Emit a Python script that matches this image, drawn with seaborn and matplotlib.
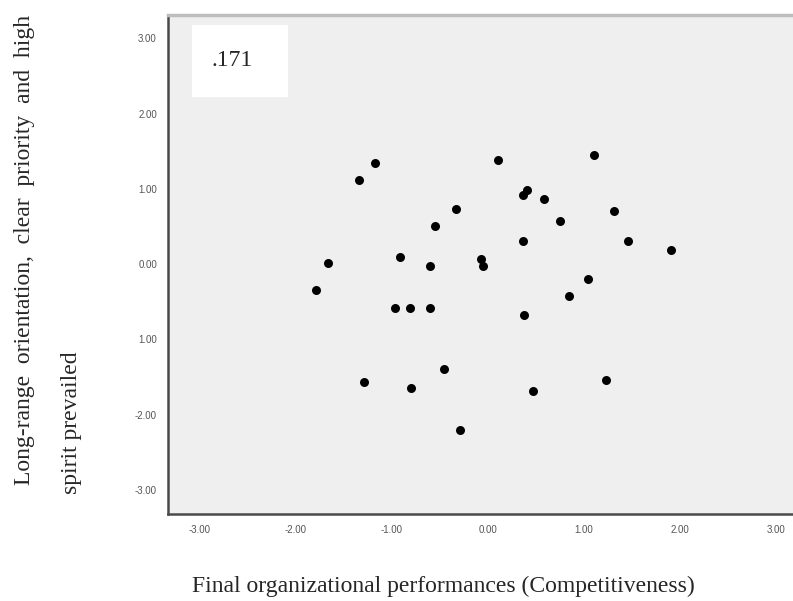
import matplotlib
matplotlib.use("Agg")
import matplotlib.pyplot as plt
import seaborn as sns
import pandas as pd

competitiveness = [-1.18, -1.34, 0.10, 1.10, 0.41, 0.36, 0.58, -0.33, 1.31, -0.55,
                   0.75, 0.36, 1.46, 1.90, -1.67, -0.92, -0.60, -0.07, -0.05, -1.79,
                   1.04, 0.84, -0.97, -0.81, -0.60, 0.375, -0.46, -1.29, -0.80, 0.47,
                   1.23, -0.29]
orientation = [1.35, 1.12, 1.39, 1.45, 0.99, 0.92, 0.87, 0.73, 0.71, 0.51,
               0.57, 0.31, 0.31, 0.19, 0.01, 0.09, -0.02, 0.07, -0.03, -0.34,
               -0.20, -0.43, -0.58, -0.58, -0.58, -0.67, -1.39, -1.56, -1.65, -1.68,
               -1.54, -2.20]
x_ticks = [-3, -2, -1, 0, 1, 2, 3]
x_tick_labels = ["-3.00", "-2.00", "-1.00", "0.00", "1.00", "2.00", "3.00"]
y_ticks = [3, 2, 1, 0, -1, -2, -3]
y_tick_labels = ["3.00", "2.00", "1.00", "0.00", "1.00", "-2.00", "-3.00"]
annotation = ".171"
x_label = "Final organizational performances (Competitiveness)"
y_label_line1 = "Long-range  orientation,  clear  priority  and  high"
y_label_line2 = "spirit prevailed"

df = pd.DataFrame({"x": competitiveness, "y": orientation})

sns.set_style("white")
fig = plt.figure(figsize=(7.93, 6.01), dpi=100)
ax = fig.add_axes([168 / 793, 1 - 514 / 601, (808 - 168) / 793, (514 - 15) / 601])
ax.set_facecolor("#efefef")

sns.scatterplot(data=df, x="x", y="y", ax=ax, color="black", s=42,
                edgecolor="black", linewidth=0, legend=False, zorder=3)

ax.set_xlim(-3.33, 3.33)
ax.set_ylim(-3.32, 3.31)
ax.set_xticks(x_ticks)
ax.set_xticklabels(x_tick_labels, family="Liberation Sans")
ax.set_yticks(y_ticks)
ax.set_yticklabels(y_tick_labels, family="Liberation Sans")
ax.tick_params(axis="both", direction="out", length=5, width=1.6, color="#444444",
               labelsize=7, labelcolor="#555555", pad=3)
ax.set_xlabel("")
ax.set_ylabel("")

for side in ["left", "bottom"]:
    ax.spines[side].set_color("#4a4a4a")
    ax.spines[side].set_linewidth(1.8)
ax.spines["top"].set_color("#bdbdbd")
ax.spines["top"].set_linewidth(2.5)
ax.spines["right"].set_visible(False)

# white annotation box with the correlation value
to_ax = ax.transAxes.inverted()
(bx0, by0) = to_ax.transform((192, 601 - 97))
(bx1, by1) = to_ax.transform((288, 601 - 25))
ax.add_patch(plt.Rectangle((bx0, by0), bx1 - bx0, by1 - by0, transform=ax.transAxes,
                           facecolor="white", edgecolor="none", zorder=1))
(tx, ty) = to_ax.transform((232, 601 - 60))
ax.text(tx, ty, annotation, transform=ax.transAxes, fontsize=17,
        family="Liberation Serif", ha="center", va="center", zorder=4)

fig.text(443 / 793, 1 - 586 / 601, x_label,
         family="Liberation Serif", fontsize=17, ha="center", va="center")
fig.text(25 / 793, 1 - 250 / 601, y_label_line1,
         family="Liberation Serif", fontsize=17, ha="center", va="center", rotation=90)
fig.text(71 / 793, 1 - 423 / 601, y_label_line2,
         family="Liberation Serif", fontsize=17, ha="center", va="center", rotation=90)

fig.savefig("out.png", dpi=100)
